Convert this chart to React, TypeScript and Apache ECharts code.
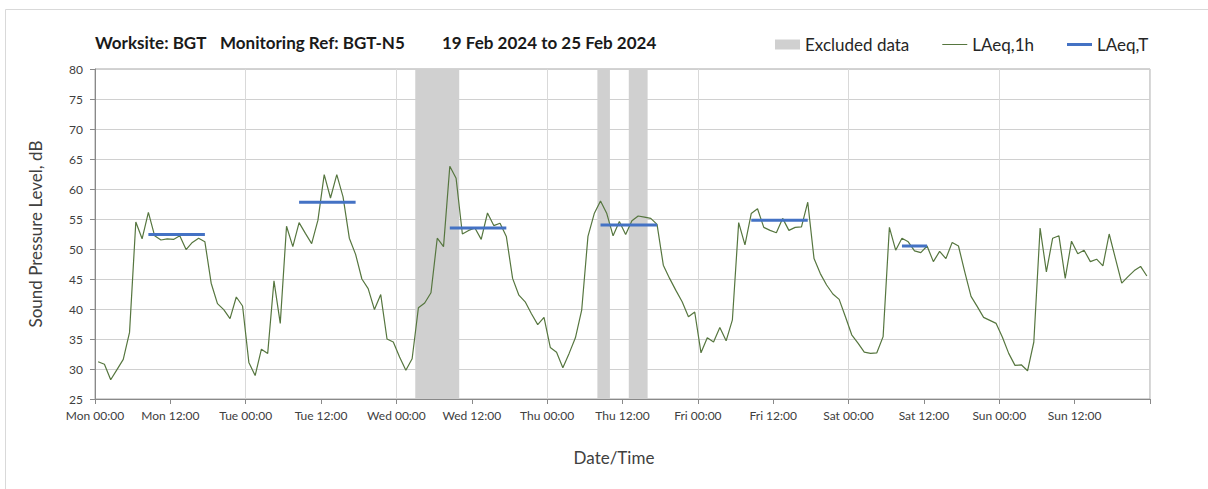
import React, { useEffect, useRef } from "react";
import * as echarts from "echarts";

// Hourly LAeq,1h values (dB), one per hour starting Mon 00:00
const mon = [31.2, 30.8, 28.2, 29.9, 31.6, 36.1, 54.5, 51.7, 56.1, 52.2, 51.5, 51.7, 51.6, 52.2, 49.9, 51.1, 51.8, 51.2, 44.3, 40.9, 39.9, 38.4, 42.0, 40.5];
const tue = [31.1, 28.9, 33.3, 32.6, 44.7, 37.6, 53.8, 50.4, 54.4, 52.6, 50.9, 54.8, 62.4, 58.5, 62.4, 58.7, 51.8, 49.1, 45.0, 43.4, 39.9, 42.4, 35.0, 34.5];
const wed = [32.0, 29.8, 31.7, 40.2, 41.0, 42.7, 51.8, 50.4, 63.8, 61.8, 52.5, 53.1, 53.5, 51.6, 56.0, 53.9, 54.3, 52.1, 45.1, 42.3, 41.2, 39.2, 37.4, 38.6];
const thu = [33.6, 32.8, 30.2, 32.6, 35.2, 39.8, 52.1, 55.9, 58.0, 55.9, 52.2, 54.6, 52.4, 54.7, 55.5, 55.3, 55.1, 54.1, 47.3, 45.1, 43.1, 41.2, 38.7, 39.5];
const fri = [32.7, 35.2, 34.5, 36.9, 34.7, 38.2, 54.4, 50.7, 55.9, 56.7, 53.6, 53.1, 52.7, 55.1, 53.1, 53.6, 53.7, 57.8, 48.4, 45.9, 44.0, 42.5, 41.6, 38.7];
const sat = [35.7, 34.3, 32.8, 32.6, 32.7, 35.4, 53.6, 49.8, 51.8, 51.2, 49.7, 49.4, 50.5, 47.9, 49.6, 48.4, 51.1, 50.5, 46.2, 42.1, 40.4, 38.6, 38.1, 37.6];
const sun = [35.3, 32.6, 30.6, 30.7, 29.7, 34.5, 53.5, 46.2, 51.8, 52.2, 45.1, 51.3, 49.2, 49.8, 47.9, 48.3, 47.2, 52.5, 48.4, 44.3, 45.4, 46.4, 47.1, 45.5];

// LAeq,T period averages (hours from Mon 00:00, hour-midpoints)
const tStart = [8.5, 32.5, 56.5, 80.5, 104.5, 128.5];
const tEnd = [17.5, 41.5, 65.5, 89.5, 113.5, 132.5];
const tLevel = [52.4, 57.8, 53.5, 54.0, 54.8, 50.5];

// Excluded data periods (hours from Mon 00:00)
const exStart = [51, 80, 85];
const exEnd = [58, 82, 88];

// X tick labels, every 12 hours
const xTickLabels = [
  "Mon 00:00", "Mon 12:00", "Tue 00:00", "Tue 12:00", "Wed 00:00", "Wed 12:00",
  "Thu 00:00", "Thu 12:00", "Fri 00:00", "Fri 12:00", "Sat 00:00", "Sat 12:00",
  "Sun 00:00", "Sun 12:00", "",
];

const FONT = 'Lato, "Open Sans", sans-serif';
const TXT = "#404040";

export default function App() {
  const ref = useRef<HTMLDivElement>(null);

  useEffect(() => {
    if (!ref.current) return;
    const chart = echarts.init(ref.current, undefined, { renderer: "svg" });

    const hourly = [...mon, ...tue, ...wed, ...thu, ...fri, ...sat, ...sun];
    const lineData = hourly.map((v, i) => [i + 0.5, v]);
    const exData = exStart.map((s, i) => [s, exEnd[i]]);

    const tSeries = tLevel.map((lv, i) => ({
      name: "LAeq,T",
      type: "line",
      symbol: "none",
      data: [
        [tStart[i], lv],
        [tEnd[i], lv],
      ],
      lineStyle: { color: "#4472c4", width: 3 },
      itemStyle: { color: "#4472c4" },
      z: 4,
    }));

    const option: any = {
      animation: false,
      backgroundColor: "#ffffff",
      textStyle: { fontFamily: FONT },
      grid: {
        left: 95,
        right: 58,
        top: 69,
        bottom: 90,
        show: true,
        borderColor: "#a6a6a6",
        borderWidth: 1,
      },
      legend: {
        left: 770,
        top: 31,
        itemWidth: 25,
        itemHeight: 10,
        itemGap: 33,
        textStyle: { fontFamily: FONT, fontSize: 17, color: "#262626" },
        data: [
          { name: "Excluded data", icon: "rect" },
          { name: "LAeq,1h", icon: "path://M0 0 H25 V1 H0 Z" },
          { name: "LAeq,T", icon: "path://M0 0 H25 V3 H0 Z" },
        ],
      },
      xAxis: [
        {
          type: "value",
          min: 0,
          max: 168,
          interval: 12,
          axisLine: { show: true, lineStyle: { color: "#898989" } },
          axisTick: { show: true, length: 5, lineStyle: { color: "#898989" } },
          axisLabel: {
            color: TXT,
            fontSize: 12,
            fontFamily: FONT,
            margin: 10,
            formatter: (v: number) => xTickLabels[Math.round(v / 12)] ?? "",
          },
          splitLine: { show: false },
        },
        {
          type: "value",
          min: 0,
          max: 168,
          interval: 24,
          position: "top",
          axisLine: { show: false },
          axisTick: { show: false },
          axisLabel: { show: false },
          splitLine: { show: true, lineStyle: { color: "#d9d9d9", width: 1 } },
        },
      ],
      yAxis: {
        type: "value",
        min: 25,
        max: 80,
        interval: 5,
        axisLine: { show: true, lineStyle: { color: "#898989" } },
        axisTick: { show: true, length: 5, lineStyle: { color: "#898989" } },
        axisLabel: { color: TXT, fontSize: 12, fontFamily: FONT, margin: 12 },
        splitLine: { show: true, lineStyle: { color: "#d0d0d0", width: 1 } },
      },
      graphic: [
        {
          type: "rect",
          shape: { x: 5.5, y: 9.5, width: 1400, height: 700 },
          style: { fill: "none", stroke: "#d9d9d9", lineWidth: 1 },
          silent: true,
        },
        {
          type: "text",
          x: 95,
          y: 42,
          style: { text: "Worksite: BGT", font: `bold 17px ${FONT}`, fill: "#1a1a1a", verticalAlign: "middle" },
        },
        {
          type: "text",
          x: 220,
          y: 42,
          style: { text: "Monitoring Ref: BGT-N5", font: `bold 17px ${FONT}`, fill: "#1a1a1a", verticalAlign: "middle" },
        },
        {
          type: "text",
          x: 442,
          y: 42,
          style: { text: "19 Feb 2024 to 25 Feb 2024", font: `bold 17px ${FONT}`, fill: "#1a1a1a", verticalAlign: "middle" },
        },
        {
          type: "text",
          x: 35,
          y: 234,
          rotation: Math.PI / 2,
          style: {
            text: "Sound Pressure Level, dB",
            font: `17px ${FONT}`,
            fill: TXT,
            align: "center",
            verticalAlign: "middle",
          },
        },
        {
          type: "text",
          x: 614,
          y: 457,
          style: {
            text: "Date/Time",
            font: `17px ${FONT}`,
            fill: TXT,
            align: "center",
            verticalAlign: "middle",
          },
        },
      ],
      series: [
        {
          name: "Excluded data",
          type: "custom",
          data: exData,
          encode: { x: [0, 1] },
          itemStyle: { color: "#d0d0d0" },
          z: 1,
          renderItem: (params: any, api: any) => {
            const a = api.coord([api.value(0), 80]);
            const b = api.coord([api.value(1), 25]);
            return {
              type: "rect",
              shape: { x: a[0], y: a[1], width: b[0] - a[0], height: b[1] - a[1] },
              style: { fill: "#d0d0d0" },
            };
          },
        },
        {
          name: "LAeq,1h",
          type: "line",
          symbol: "none",
          data: lineData,
          lineStyle: { color: "#56763f", width: 1.2 },
          itemStyle: { color: "#56763f" },
          z: 3,
        },
        ...tSeries,
      ],
    };

    chart.setOption(option);
    return () => chart.dispose();
  }, []);

  return (
    <div
      ref={ref}
      style={{ position: "fixed", left: 0, top: 0, width: 1208, height: 489, background: "#fff" }}
    />
  );
}
